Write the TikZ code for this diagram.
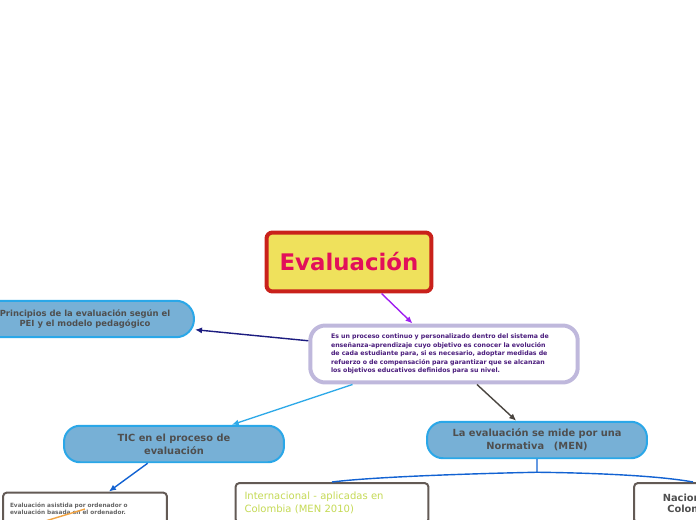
\documentclass[tikz,border=0pt]{standalone}
\usepackage{fontspec}
\setsansfont{DejaVu Sans}
\usetikzlibrary{positioning,arrows.meta,calc}
\definecolor{titlefill}{HTML}{EFE15C}
\definecolor{titleedge}{HTML}{C9211B}
\definecolor{titletext}{HTML}{E2105A}
\definecolor{centraledge}{HTML}{BFB8DC}
\definecolor{centraltext}{HTML}{4A1C7C}
\definecolor{branchfill}{HTML}{77B0D6}
\definecolor{branchedge}{HTML}{2AA7E8}
\definecolor{branchtext}{HTML}{4F4F4F}
\definecolor{leafedge}{HTML}{635A55}
\definecolor{leaftext}{HTML}{666666}
\definecolor{greentext}{HTML}{C5DA55}
\definecolor{purpleedge}{HTML}{A020F0}
\definecolor{navyedge}{HTML}{1C1C80}
\definecolor{skyedge}{HTML}{30AAE8}
\definecolor{darkedge}{HTML}{4A4540}
\definecolor{blueedge}{HTML}{1262D2}
\definecolor{orangeedge}{HTML}{F2A443}

\begin{document}
\begin{tikzpicture}[
    x=0.02cm, y=-0.02cm,
    >={Latex[length=4pt,width=3.5pt]},
    every node/.style={font=\sffamily},
    topic/.style={
        draw=titleedge,
        fill=titlefill,
        line width=0.08cm,
        rounded corners=0.12cm,
        minimum width=3.3cm,
        minimum height=1.18cm,
        text=titletext,
        font=\sffamily\bfseries\fontsize{13pt}{15pt}\selectfont
    },
    central/.style={
        draw=centraledge,
        fill=white,
        line width=0.08cm,
        rounded corners=0.3cm,
        minimum width=5.35cm,
        minimum height=1.14cm,
        text width=4.52cm,
        align=left,
        text=centraltext,
        font=\sffamily\bfseries\fontsize{3.55pt}{4.9pt}\selectfont
    },
    branch/.style={
        draw=branchedge,
        fill=branchfill,
        line width=0.04cm,
        rounded corners=0.32cm,
        minimum width=4.4cm,
        minimum height=0.73cm,
        align=center,
        text=branchtext,
        font=\sffamily\bfseries\fontsize{5.6pt}{7.4pt}\selectfont
    },
    leafbox/.style={
        draw=leafedge,
        fill=white,
        line width=0.04cm,
        rounded corners=0.08cm,
        text=leaftext
    },
    edge/.style={->, line width=0.8pt}
]

\clip (0,0) rectangle (696,520);

\node[topic] (evaluacion) at (349,262) {Evaluación};
\node[central] (definicion) at (444,354)
    {Es un proceso continuo y personalizado dentro del sistema de\\
     enseñanza-aprendizaje cuyo objetivo es conocer la evolución\\
     de cada estudiante para, si es necesario, adoptar medidas de\\
     refuerzo o de compensación para garantizar que se alcanzan\\
     los objetivos educativos definidos para su nivel.};

\node[branch, minimum width=4.36cm, rounded corners=0.36cm,
    font=\sffamily\bfseries\fontsize{4.8pt}{6.2pt}\selectfont] (principios) at (85,319)
    {Principios de la evaluación según el\\PEI y el modelo pedagógico};
\node[branch] (tic) at (174,444) {TIC en el proceso de\\evaluación};
\node[branch] (normativa) at (537,440) {La evaluación se mide por una\\Normativa\quad(MEN)};

\node[leafbox, minimum width=3.28cm, minimum height=0.66cm, text width=3.0cm, align=left,
    font=\sffamily\bfseries\fontsize{3.3pt}{4.1pt}\selectfont] (asistida) at (85,509)
    {Evaluación asistida por ordenador o\\evaluación basada en el ordenador.};
\node[leafbox, minimum width=3.86cm, minimum height=0.8cm, text width=3.5cm, align=left,
    text=greentext, font=\sffamily\fontsize{5.7pt}{7.4pt}\selectfont] (internacional) at (332,503)
    {Internacional - aplicadas en\\Colombia (MEN 2010)};
\node[leafbox, minimum width=2.36cm, minimum height=0.8cm, align=center, text=branchtext,
    font=\sffamily\bfseries\fontsize{5.6pt}{6.4pt}\selectfont] (nacional) at (693,503)
    {Nacionales\\Colombia};

\coordinate (asistidahijo) at (-100,565);
\coordinate (bifurcacion) at ($(normativa.south)+(0,13)$);

\draw[edge, purpleedge] (evaluacion) -- (definicion);
\draw[edge, navyedge] (definicion) -- (principios);
\draw[edge, skyedge] (definicion) -- (tic);
\draw[edge, darkedge] (definicion) -- (normativa);
\draw[edge, blueedge] (tic) -- (asistida);

% ramas de la normativa
\draw[line width=0.8pt, blueedge] (normativa.south) -- (bifurcacion)
    .. controls (500,473) and (380,476) .. (internacional.north);
\draw[line width=0.8pt, blueedge] (bifurcacion)
    .. controls (600,473) and (660,476) .. (nacional.north);

\draw[line width=0.8pt, orangeedge] (asistida.center) -- (asistidahijo);

\end{tikzpicture}
\end{document}
